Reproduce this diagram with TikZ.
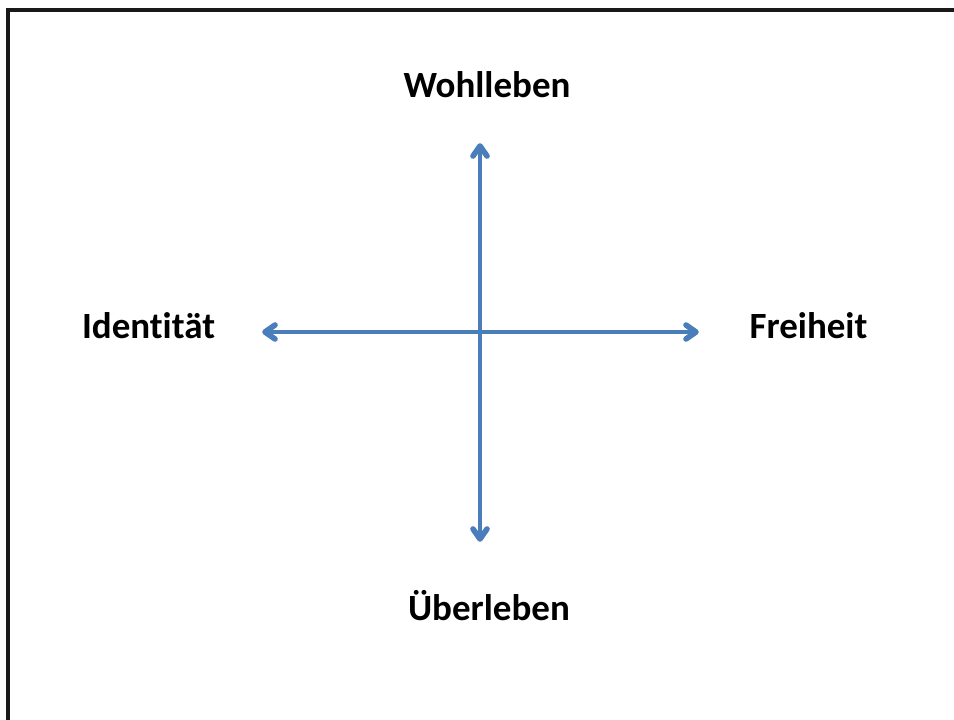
\documentclass[tikz,border=0pt]{standalone}
\usepackage{fontspec}
\setmainfont[Ligatures={NoCommon}]{Carlito}
\definecolor{axisblue}{HTML}{4A7EBB}
\tikzset{
  label text/.style={font=\fontsize{27.75}{32}\selectfont\bfseries, anchor=base, inner sep=0pt},
  axis line/.style={draw=axisblue, line width=3.4pt},
  chevron/.style={draw=axisblue, line width=4.2pt, line cap=round, line join=round},
}
\begin{document}
\begin{tikzpicture}[x=0.75pt,y=-0.75pt]
\useasboundingbox (0,0) rectangle (954,720);
\fill[white] (0,0) rectangle (954,720);
\draw[line width=2.6pt, black!90] (8,10) rectangle (970,740);
\coordinate (top) at (480,146);
\coordinate (bottom) at (480,539);
\coordinate (left) at (265,332);
\coordinate (right) at (696,332);
\draw[axis line] (left) -- (right);
\draw[axis line] (top) -- (bottom);
\draw[chevron] (top) ++(-7,10) -- ++(7,-10) -- ++(7,10);
\draw[chevron] (bottom) ++(-7,-10) -- ++(7,10) -- ++(7,-10);
\draw[chevron] (left) ++(10,-7) -- ++(-10,7) -- ++(10,7);
\draw[chevron] (right) ++(-10,-7) -- ++(10,7) -- ++(-10,7);
\node[label text] (wohl) at (487,98) {Wohlleben};
\node[label text] (ident) at (148.5,339) {Identität};
\node[label text] (frei) at (808.5,339) {Freiheit};
\node[label text] (ueber) at (489,620) {Überleben};
\end{tikzpicture}
\end{document}
